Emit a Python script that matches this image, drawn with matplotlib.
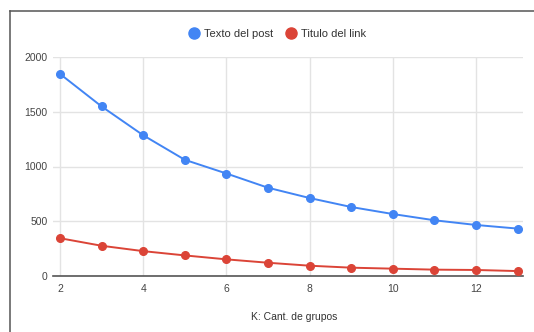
import matplotlib
matplotlib.use("Agg")
import matplotlib.pyplot as plt
from matplotlib.lines import Line2D

plt.rcParams['font.family'] = ['Liberation Sans', 'DejaVu Sans']

k = [2, 3, 4, 5, 6, 7, 8, 9, 10, 11, 12, 13]
texto_post = [1845, 1548, 1285, 1061, 936, 806, 712, 630, 566, 509, 466, 433]
titulo_link = [345, 276, 227, 188, 152, 121, 94, 76, 67, 58, 55, 45]
series_names = ["Texto del post", "Titulo del link"]
xticks = [2, 4, 6, 8, 10, 12]
yticks = [0, 500, 1000, 1500, 2000]
xlabel = "K: Cant. de grupos"

blue = "#4285f4"
red = "#db4437"

W, H = 534, 332
fig = plt.figure(figsize=(W / 100, H / 100), dpi=100)
fig.patch.set_facecolor("white")

# border frame (left and top)
fig.add_artist(Line2D([10 / W, 10 / W], [0, 1 - 11 / H], color="#555555", lw=1.1, transform=fig.transFigure))
fig.add_artist(Line2D([10 / W, 1], [1 - 11 / H, 1 - 11 / H], color="#555555", lw=1.1, transform=fig.transFigure))

left, right, top, bottom = 53, 523, 57, 276
ax = fig.add_axes([left / W, 1 - bottom / H, (right - left) / W, (bottom - top) / H])

ax.plot(k, texto_post, color=blue, lw=1.4, marker="o", ms=5.5, zorder=3, clip_on=False)
ax.plot(k, titulo_link, color=red, lw=1.4, marker="o", ms=5.5, zorder=3, clip_on=False)

ax.set_xlim(1.83, 13.13)
ax.set_ylim(0, 2000)
ax.set_xticks(xticks)
ax.set_yticks(yticks)
ax.set_xticklabels([str(v) for v in xticks])
ax.set_yticklabels([str(v) for v in yticks])
ax.grid(True, color="#e3e3e3", lw=1)
ax.set_axisbelow(True)
for s in ["top", "right", "left"]:
    ax.spines[s].set_visible(False)
ax.spines["bottom"].set_color("#555555")
ax.spines["bottom"].set_linewidth(1.2)
ax.spines["bottom"].set_zorder(2)
ax.tick_params(axis="both", length=0, labelsize=7.5, labelcolor="#444444")
ax.tick_params(axis="y", pad=4)
ax.tick_params(axis="x", pad=6)

fig.text(294 / W, 1 - 317 / H, xlabel, ha="center", va="center", fontsize=7.5, color="#333333")

handles = [Line2D([], [], color=blue, marker="o", ls="none", ms=8),
           Line2D([], [], color=red, marker="o", ls="none", ms=8)]
fig.legend(handles, series_names, loc="center", bbox_to_anchor=(277 / W, 1 - 34 / H), ncol=2,
           frameon=False, fontsize=8, handletextpad=0.4, columnspacing=1.1, handlelength=1.0,
           labelcolor="#333333")

fig.savefig("out.png", dpi=100, facecolor="white")
